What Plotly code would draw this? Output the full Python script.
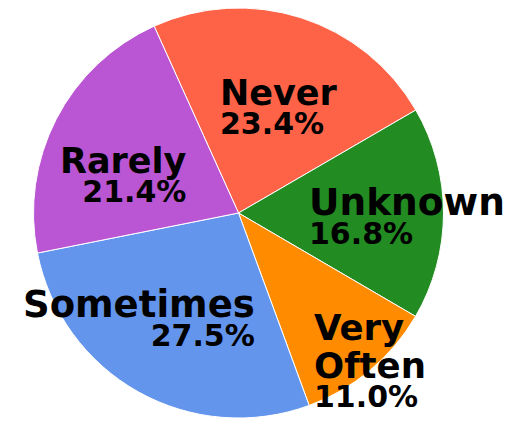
import plotly.graph_objects as go

# ---- data ----
categories = ["Never", "Unknown", "Very Often", "Sometimes", "Rarely"]
values = [23.4, 16.8, 11.0, 27.5, 21.4]
colors = ["#FF6347", "#228B22", "#FF8C00", "#6495ED", "#BA55D3"]

# ---- layout constants (pixels, figure coordinates) ----
W, H = 513, 423
CX, CY, R = 230.5, 205.0, 205.0    # pie centre / radius
PCT_SIZE = 30
BASE = 28.5 / 1.3                  # base font size -> line spacing 28.5px
FONT = "DejaVu Sans"
ASC, DESC = 0.928, 0.236
# aligned-edge x, first baseline y, side, label font size
label_pos = {
    "Never":      (212.0, 97.7, "left", 35),
    "Unknown":    (301.0, 207.0, "left", 37.5),
    "Very Often": (305.5, 332.0, "left", 35.5),
    "Sometimes":  (246.5, 309.5, "right", 37),
    "Rarely":     (179.0, 165.3, "right", 35),
}
LABEL_GAP = 38.0

total = sum(values)

fig = go.Figure(go.Pie(
    labels=categories,
    values=values,
    sort=False,
    direction="clockwise",
    rotation=-24.3,
    marker=dict(colors=colors, line=dict(color="white", width=1)),
    textinfo="none",
    showlegend=False,
    hoverinfo="label+percent",
    domain=dict(x=[max(0, (CX - R) / W), min(1, (CX + R) / W)],
                y=[max(0, 1 - (CY + R) / H), min(1, 1 - (CY - R) / H)]),
))


def add_text(text, px, top, side, size):
    fig.add_annotation(
        text=text, xref="paper", yref="paper",
        x=px / W, y=1 - top / H,
        xanchor=side, yanchor="top", align=side,
        showarrow=False, borderpad=0, borderwidth=0,
        font=dict(family=FONT, size=size, color="black", weight="bold"),
    )


for cat, val in zip(categories, values):
    px, base, side, lsize = label_pos[cat]
    words = cat.split(" ")
    pct = f"{100 * val / total:.1f}%"
    for i, w in enumerate(words[:-1]):
        add_text(w, px, base + i * LABEL_GAP - ASC * lsize, side, lsize)
    last_base = base + (len(words) - 1) * LABEL_GAP
    txt = (f"<span style='font-size:{lsize}px'>{words[-1]}</span><br>"
           f"<span style='font-size:{PCT_SIZE}px'>{pct}</span>")
    add_text(txt, px, last_base - ASC * lsize, side, BASE)

fig.update_layout(
    width=W, height=H,
    margin=dict(l=0, r=0, t=0, b=0),
    paper_bgcolor="white",
)
fig.write_html("out.html")
